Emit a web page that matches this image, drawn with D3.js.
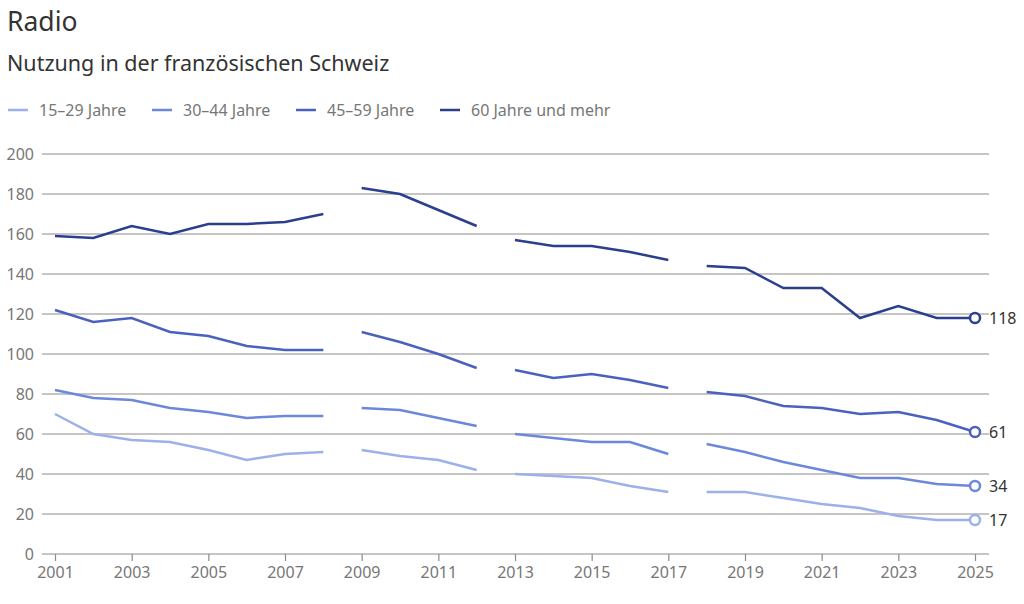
<!DOCTYPE html>
<html lang="de">
<head>
<meta charset="UTF-8">
<title>Radio</title>
<script src="https://cdn.jsdelivr.net/npm/d3@7"></script>
<style>
    body{ margin:0; background:#fff; font-family:"Noto Sans", sans-serif; }
    .title{ font-size:26.5px; fill:#333; }
    .subtitle{ font-size:21.5px; fill:#333; }
    .legend text{ font-size:16px; fill:#777; }
</style>
</head>
<body>
<svg id="chart" width="1024" height="604"></svg>
<script>
    // data, null = no value (line break)
    let years = d3.range(2001, 2026)
    let seriesNames = ["15–29 Jahre", "30–44 Jahre", "45–59 Jahre", "60 Jahre und mehr"]
    let colors = ["#9cb1ea", "#6c88da", "#4a62bd", "#2b3f8e"]

    // segments: 2001-2008, 2009-2012, 2013-2017, 2018-2025
    let age15_29 = [70,60,57,56,52,47,50,51, 52,49,47,42, 40,39,38,34,31, 31,31,28,25,23,19,17,17]
    let age30_44 = [82,78,77,73,71,68,69,69, 73,72,68,64, 60,58,56,56,50, 55,51,46,42,38,38,35,34]
    let age45_59 = [122,116,118,111,109,104,102,102, 111,106,100,93, 92,88,90,87,83, 81,79,74,73,70,71,67,61]
    let age60plus = [159,158,164,160,165,165,166,170, 183,180,172,164, 157,154,154,151,147, 144,143,133,133,118,124,118,118]
    let breakBefore = [2009, 2013, 2018]

    let yTicks = [0,20,40,60,80,100,120,140,160,180,200]
    let xTicks = years.filter(y => y % 2 === 1)

    let allSeries = [age15_29, age30_44, age45_59, age60plus]

    let svg = d3.select("#chart")

    svg.append("text").attr("class","title").attr("x",7).attr("y",31).text("Radio")
    svg.append("text").attr("class","subtitle").attr("x",7).attr("y",71).text("Nutzung in der französischen Schweiz")

    // legend
    let legendX = [8, 152, 296, 440]
    let legend = svg.append("g").attr("class","legend")
    seriesNames.forEach(function(name, i){
        let g = legend.append("g").attr("transform","translate(" + legendX[i] + ",110)")
        g.append("line").attr("x1",0).attr("x2",20).attr("y1",0).attr("y2",0)
            .attr("stroke",colors[i]).attr("stroke-width",2.5)
        g.append("text").attr("x",31).attr("y",5.5).text(name)
    })

    let x = d3.scaleLinear().domain([2001, 2025]).range([55, 975])
    let y = d3.scaleLinear().domain([0, 200]).range([554, 154])

    // grid
    let grid = svg.append("g")
    grid.selectAll("line").data(yTicks.filter(d => d > 0)).join("line")
        .attr("x1",42).attr("x2",989)
        .attr("y1",d => y(d)).attr("y2",d => y(d))
        .attr("stroke","#8c8c8c").attr("stroke-width",1.2)

    // y labels
    svg.append("g").selectAll("text").data(yTicks).join("text")
        .attr("x",34).attr("y",d => y(d) + 5.5)
        .attr("text-anchor","end")
        .style("font-size","16px").style("fill","#777")
        .text(d => d)

    // x axis
    let xAxis = svg.append("g").attr("transform","translate(0," + y(0) + ")")
        .call(d3.axisBottom(x).tickValues(xTicks).tickFormat(d3.format("d")).tickSize(7).tickPadding(6))
    xAxis.select(".domain").attr("d","M42,0H989").attr("stroke","#8c8c8c").attr("stroke-width",1.2)
    xAxis.selectAll(".tick line").attr("stroke","#8c8c8c").attr("stroke-width",1.2)
    xAxis.selectAll(".tick text").style("font-size","16px").style("fill","#777")
        .style("font-family","'Noto Sans', sans-serif")

    let line = d3.line()
        .defined(d => d.v != null)
        .x(d => x(d.year))
        .y(d => y(d.v))

    allSeries.forEach(function(values, i){
        let pts = []
        years.forEach(function(yr, j){
            if (breakBefore.indexOf(yr) >= 0) pts.push({year: yr, v: null})
            pts.push({year: yr, v: values[j]})
        })
        svg.append("path").datum(pts)
            .attr("fill","none")
            .attr("stroke",colors[i])
            .attr("stroke-width",2.5)
            .attr("d",line)

        let last = values[values.length - 1]
        svg.append("circle")
            .attr("cx",x(2025)).attr("cy",y(last)).attr("r",5)
            .attr("fill","#fff").attr("stroke",colors[i]).attr("stroke-width",2.5)
        svg.append("text")
            .attr("x",x(2025) + 14).attr("y",y(last) + 5.5)
            .style("font-size","16px").style("fill","#333")
            .text(last)
    })
</script>
</body>
</html>
